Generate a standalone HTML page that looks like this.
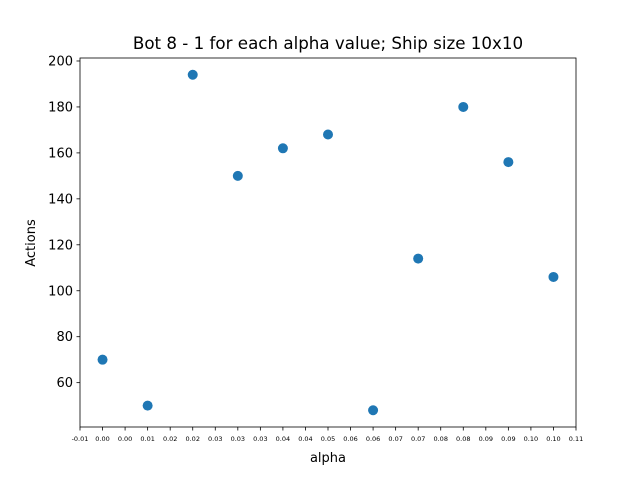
<!DOCTYPE html>
<html><head><meta charset="utf-8"><style>body{margin:0;background:#fff}svg{font-family:"DejaVu Sans","Liberation Sans",sans-serif}</style></head>
<body>
<svg id="c" width="640" height="480"></svg>
<script>
const alphas=[0,0.01,0.02,0.03,0.04,0.05,0.06,0.07,0.08,0.09,0.10];
const actions=[70,50,194,150,162,168,48,114,180,156,106];
const xTickLabels=["-0.01","0.00","0.00","0.01","0.02","0.02","0.03","0.03","0.03","0.04","0.04","0.05","0.06","0.06","0.07","0.07","0.08","0.08","0.09","0.09","0.10","0.10","0.11"];
const yTicks=[60,80,100,120,140,160,180,200];
const L=80,R=576,T=58,B=427;
const x0=-0.005,x1=0.105,y0=40.7,y1=201.3;
const X=v=>L+(v-x0)/(x1-x0)*(R-L);
const Y=v=>B-(v-y0)/(y1-y0)*(B-T);
const s=document.getElementById('c');const NS='http://www.w3.org/2000/svg';
function mk(t,a,txt){const e=document.createElementNS(NS,t);for(const k in a)e.setAttribute(k,a[k]);if(txt!=null)e.textContent=txt;s.appendChild(e);return e;}
let e;
e=mk('rect',{x:L,y:T,width:R-L,height:B-T,fill:'none',stroke:'#000','stroke-width':0.8});


xTickLabels.forEach((lab,i)=>{const v=-0.005+i*0.005;const px=X(v);
e=mk('line',{x1:px,x2:px,y1:B,y2:B+3.5,stroke:'#000','stroke-width':0.8});


e=mk('text',{x:px,y:B+14,'font-size':6.5,'text-anchor':'middle'},lab);

});
yTicks.forEach(v=>{const py=Y(v);
e=mk('line',{x1:L-3.5,x2:L,y1:py,y2:py,stroke:'#000','stroke-width':0.8});


e=mk('text',{x:L-7,y:py+4.5,'font-size':13,'text-anchor':'end'},String(v));

});
alphas.forEach((a,i)=>{e=mk('circle',{cx:X(a),cy:Y(actions[i]),r:5,fill:'#1f77b4'});

});
e=mk('text',{x:328,y:49,'font-size':16.7,'text-anchor':'middle'},'Bot 8 - 1 for each alpha value; Ship size 10x10');


e=mk('text',{x:328,y:462,'font-size':13,'text-anchor':'middle'},'alpha');


e=mk('text',{x:0,y:0,'font-size':13,'text-anchor':'middle',transform:'translate(35,243) rotate(-90)'},'Actions');


</script>
</body></html>
